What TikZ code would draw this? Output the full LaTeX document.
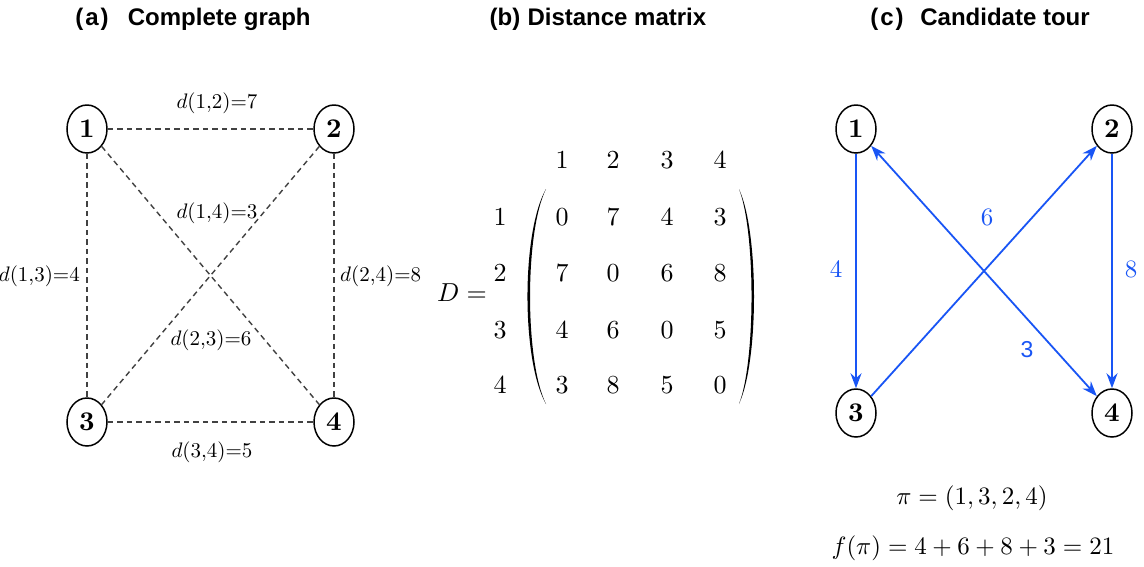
\documentclass[tikz,border=0pt]{standalone}
\usepackage{fontspec}
\setmainfont{lmroman10-regular.otf}[BoldFont=lmroman10-bold.otf,ItalicFont=lmroman10-italic.otf]
\newfontfamily\titlefont{Liberation Sans}
\DeclareFontShape{OT1}{cmr}{m}{n}{<->cmr10}{}
\DeclareFontShape{OML}{cmm}{m}{it}{<->cmmi10}{}
\DeclareFontShape{OMS}{cmsy}{m}{n}{<->cmsy10}{}
\usetikzlibrary{arrows.meta,shapes.geometric}
\definecolor{tourblue}{RGB}{25,85,245}
\definecolor{edgegray}{RGB}{65,65,65}
\begin{document}
\begin{tikzpicture}[x=1pt,y=-1pt,
  vert/.style={draw,ellipse,line width=1.5pt,minimum width=40pt,minimum height=48pt,inner sep=0pt,font=\fontsize{27}{28}\selectfont\bfseries},
  paneltitle/.style={font=\titlefont\bfseries\fontsize{24}{27}\selectfont},
  dedge/.style={dash pattern=on 5.5pt off 4pt, edgegray, line width=1.4pt},
  elab/.style={font=\fontsize{21}{24}\selectfont, inner sep=1pt},
  mat/.style={font=\fontsize{26}{30}\selectfont, inner sep=0pt},
  tour/.style={tourblue,line width=1.8pt,-{Stealth[length=15pt,width=11pt]}},
  tlab/.style={tourblue,font=\fontsize{25}{28}\selectfont},
]
\useasboundingbox (0,0) rectangle (1144,566);
\fill[white] (0,0) rectangle (1144,566);

% titles
\node[paneltitle] (ta) at (193,19) {(\kern2pt a\kern2pt)\hspace{0.8em}Complete graph};
\node[paneltitle] (tb) at (598,19) {(b)\hspace{0.3em}Distance matrix};
\node[paneltitle] (tc) at (980,19) {(\kern2pt c\kern2pt)\hspace{0.7em}Candidate tour};

% panel a
\node[vert] (a1) at (87,129) {1};
\node[vert] (a2) at (334,129) {2};
\node[vert] (a3) at (87,422) {3};
\node[vert] (a4) at (334,422) {4};
\draw[dedge] (a1) -- (a2);
\draw[dedge] (a1) -- (a3);
\draw[dedge] (a2) -- (a4);
\draw[dedge] (a3) -- (a4);
\draw[dedge] (a1) -- (a4);
\draw[dedge] (a2) -- (a3);
\node[elab] (l12) at (217,103) {$d(1{,}2)$=7};
\node[elab] (l14) at (217,213) {$d(1{,}4)$=3};
\node[elab] (l23) at (211,340) {$d(2{,}3)$=6};
\node[elab] (l34) at (212,452) {$d(3{,}4)$=5};
\node[elab,anchor=east] (l13) at (81,276) {$d(1{,}3)$=4};
\node[elab,anchor=west] (l24) at (339,276) {$d(2{,}4)$=8};

% panel b
\node[mat] (D) at (462,293) {$D=$};
\node[mat] (h1) at (562,160) {1};
\node[mat] (h2) at (613,160) {2};
\node[mat] (h3) at (667,160) {3};
\node[mat] (h4) at (720,160) {4};
\node[mat] (r1) at (500,217) {1};
\node[mat] (r2) at (500,273) {2};
\node[mat] (r3) at (500,330) {3};
\node[mat] (r4) at (500,385) {4};
\node[mat] (m11) at (562,217) {0};
\node[mat] (m12) at (613,217) {7};
\node[mat] (m13) at (667,217) {4};
\node[mat] (m14) at (720,217) {3};
\node[mat] (m21) at (562,273) {7};
\node[mat] (m22) at (613,273) {0};
\node[mat] (m23) at (667,273) {6};
\node[mat] (m24) at (720,273) {8};
\node[mat] (m31) at (562,330) {4};
\node[mat] (m32) at (613,330) {6};
\node[mat] (m33) at (667,330) {0};
\node[mat] (m34) at (720,330) {5};
\node[mat] (m41) at (562,385) {3};
\node[mat] (m42) at (613,385) {8};
\node[mat] (m43) at (667,385) {5};
\node[mat] (m44) at (720,385) {0};
\fill[black] (546,189) .. controls (521.3,232) and (521.3,361) .. (546,404)
  .. controls (524.7,361) and (524.7,232) .. cycle;
\fill[black] (739,189) .. controls (759,232) and (759,361) .. (739,404)
  .. controls (755.7,361) and (755.7,232) .. cycle;

% panel c
\node[vert] (c1) at (856,129) {1};
\node[vert] (c2) at (1112,129) {2};
\node[vert] (c3) at (856,413) {3};
\node[vert] (c4) at (1112,413) {4};
\draw[tour] (c1) -- (c3);
\draw[tour] (c3) -- (c2);
\draw[tour] (c2) -- (c4);
\draw[tourblue,line width=1.8pt,{Stealth[length=15pt,width=11pt]}-{Stealth[length=15pt,width=11pt]}] (c1) -- (c4);
\node[tlab] (w4) at (836,269) {4};
\node[tlab] (w6) at (987,217) {6};
\node[tlab] (w8) at (1131,269) {8};
\node[tlab,font=\titlefont\fontsize{23}{26}\selectfont] (w3) at (1027,350) {3};
\node[font=\fontsize{25}{28}\selectfont] (pi) at (972,498) {$\pi = (1,3,2,4)$};
\node[font=\fontsize{25}{28}\selectfont] (fp) at (973,548) {$f(\pi) = 4+6+8+3 = 21$};
\end{tikzpicture}
\end{document}
